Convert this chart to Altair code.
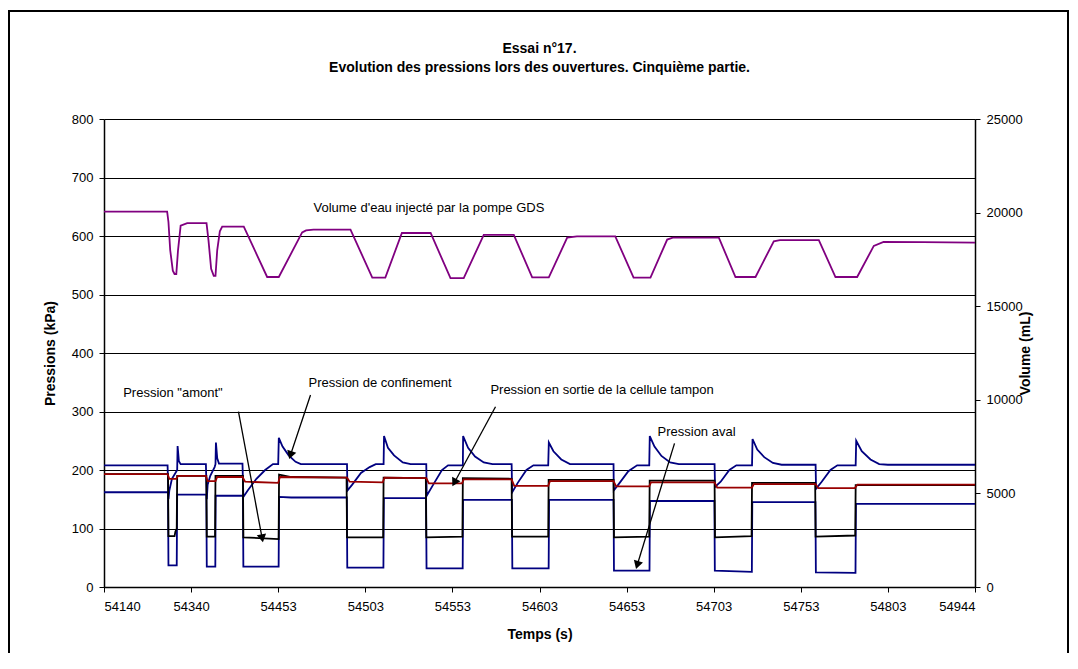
import math
import altair as alt
import pandas as pd

# ---------------- data (x = sample index of the Excel category axis, 0..1000) -------------
x_tick_values = [0, 100, 200, 300, 400, 500, 600, 700, 800, 900, 1000]
x_labels = ['54140', '54340', '54453', '54503', '54553', '54603',
            '54653', '54703', '54753', '54803', '54944']

title_lines = ["Essai n°17.", "Evolution des pressions lors des ouvertures. Cinquième partie."]

# Pression de confinement (kPa)
conf_t = [0, 73, 74, 75, 78, 82, 84, 84.5, 86, 88, 117, 118, 119, 122, 127, 128, 128.5, 130, 132,
          159, 160, 165, 175, 185, 194, 200, 200.7, 205, 212, 220, 226, 279, 279.5, 285, 295, 305,
          312, 321, 321.5, 326, 333, 343, 352, 370, 370.5, 378, 388, 395, 412, 412.3, 418, 426,
          436, 446, 468, 468.6, 475, 485, 493, 510, 510.7, 516, 525, 535, 585, 585.3, 592, 602,
          612, 626, 626.6, 632, 640, 650, 660, 701, 701.5, 708, 718, 726, 744, 744.6, 750, 758,
          768, 778, 817, 817.5, 824, 834, 842, 863, 863.6, 870, 880, 890, 900, 1000]
conf_p = [208, 208, 150, 165, 185, 195, 200, 241, 215, 210, 210, 150, 175, 190, 205, 210, 247, 220, 211,
          211, 154, 165, 185, 200, 210, 210, 255, 240, 225, 214, 210, 210, 165, 175, 195, 205,
          210, 210, 258, 238, 225, 213, 210, 210, 156, 175, 200, 208, 208, 258, 238, 223,
          213, 210, 210, 162, 178, 200, 208, 208, 247, 232, 218, 210, 210, 165, 178, 198,
          208, 208, 258, 240, 224, 213, 210, 210, 171, 180, 200, 208, 208, 253, 235, 222,
          212, 209, 209, 168, 180, 200, 208, 208, 250, 232, 218, 210, 209, 209]

# Pression aval (kPa)
aval_t = [0, 73.5, 74, 83.5, 84, 117.5, 118, 127.8, 128.2, 159.5, 160, 200.5, 201, 215, 278.8, 279.3,
          320.8, 321.3, 369.8, 370.3, 411.8, 412.2, 468.3, 468.8, 510.5, 511, 585, 585.5, 626.3,
          626.8, 700.8, 701.3, 743.8, 744.3, 816.8, 817.3, 862.8, 863.3, 1000]
aval_p = [162, 162, 37, 37, 158, 158, 35, 35, 156, 156, 35, 35, 154, 153, 153, 33,
          33, 152, 152, 32, 32, 149, 149, 32, 32, 149, 149, 28, 28,
          147, 147, 28, 26, 145, 145, 25, 24, 142, 142]

# Pression "amont" (kPa)
amont_t = [0, 73.5, 74, 81, 82, 83.5, 84, 117.5, 118, 127.5, 128, 159.5, 160, 200.5, 201, 215, 278.5,
           279, 320.5, 321, 369.5, 370, 411.5, 412, 468, 468.5, 510, 510.5, 585, 585.5, 626, 626.5,
           701, 701.5, 743.5, 744, 816.5, 817, 862.5, 863, 1000]
amont_p = [193, 193, 87, 87, 95, 100, 190, 190, 86, 86, 190, 190, 85, 82, 192, 188, 187,
           85, 85, 187, 186, 85, 86, 186, 185, 86, 86, 183, 183, 85, 86, 182,
           182, 85, 87, 178, 178, 86, 88, 174, 174]

# Pression en sortie de la cellule tampon (kPa)
tampon_t = [0, 73, 75, 83, 85, 117, 119, 128, 130, 159, 162, 200, 202, 279, 282, 320, 322, 370, 373,
            411, 413, 468, 471, 510, 512, 585, 588, 626, 628, 701, 704, 744, 746, 817, 820, 862,
            865, 1000]
tampon_p = [193, 193, 185, 185, 190, 190, 181, 181, 188, 188, 180, 178, 188, 187, 180, 179, 187, 186, 177,
            177, 184, 184, 173, 173, 181, 181, 172, 172, 179, 179, 170, 170, 176, 176, 169, 169,
            175, 175]

# Volume d'eau injecté par la pompe GDS (mL)
gds_t = [0, 72.5, 74, 76, 79, 81, 83, 85, 88, 95.5, 117.7, 120, 123, 126, 128, 130, 133, 135.7,
         160.5, 187.3, 200.7, 227.5, 232, 240.5, 283, 308, 323, 342, 375, 397.8, 413, 436,
         470.5, 491.6, 510.7, 531.8, 543, 587, 608, 627.4, 646.6, 653, 705.9, 725, 748, 769,
         776, 820.7, 839.8, 864.7, 883.8, 895, 940, 1000]
gds_v = [20050, 20050, 19500, 18000, 16900, 16720, 16720, 18000, 19300, 19440, 19440, 18500, 17000,
         16625, 16625, 18000, 19000, 19250, 19250, 16560, 16560, 18940, 19050, 19090, 19090, 16530,
         16530, 18910, 18910, 16500, 16500, 18810, 18810, 16540, 16540, 18660, 18730, 18730, 16530,
         16530, 18560, 18660, 18660, 16560, 16560, 18470, 18530, 18530, 16560, 16560, 18220, 18440,
         18420, 18400]

# annotations (data coordinates on the pressure axis)
note_text = ["Volume d'eau injecté par la pompe GDS", 'Pression "amont"',
             "Pression de confinement", "Pression en sortie de la cellule tampon", "Pression aval"]
note_t = [240.5, 22, 234.8, 443.6, 635.5]
note_p = [648, 331.6, 349, 336.8, 265]

arrow_t0 = [154.4, 237.1, 449.5, 655.0]
arrow_p0 = [299.7, 328.2, 308.2, 245.6]
arrow_t1 = [181.6, 214.1, 402.2, 612.2]
arrow_p1 = [83.2, 225.6, 178.3, 37.6]

# ---------------- chart ----------------
W, H = 871, 468
FONT = "Liberation Sans"
px_per_t = W / 1000.0
px_per_p = H / 800.0

xs = alt.Scale(domain=[0, 1000], nice=False, zero=False)
ys = alt.Scale(domain=[0, 800], nice=False)
vs = alt.Scale(domain=[0, 25000], nice=False)

label_expr = "[" + ",".join("'%s'" % s for s in x_labels) + "][round(datum.value/100)]"

AX = dict(labelFont=FONT, labelFontSize=13, labelColor="black", titleFont=FONT, titleFontSize=14,
          titleFontWeight="bold", titleColor="black", domainColor="black", tickColor="black",
          domainWidth=1.5, tickSize=5)

x_axis = alt.Axis(values=x_tick_values, labelExpr=label_expr, title="Temps (s)",
                  grid=False, labelPadding=8, titlePadding=14, **AX)
y_axis = alt.Axis(values=list(range(0, 801, 100)), title="Pressions (kPa)", grid=True,
                  gridColor="black", gridWidth=1, labelPadding=6, titlePadding=14, **AX)
v_axis = alt.Axis(values=list(range(0, 25001, 5000)), title="Volume (mL)", orient="right",
                  format="d", grid=False, labelPadding=6, titlePadding=10, titleAngle=270, **AX)


def enc(chart, xf, yf, yscale, yaxis):
    return chart.encode(x=alt.X(xf, scale=xs, axis=x_axis), y=alt.Y(yf, scale=yscale, axis=yaxis))


def line(t, v, color, yscale=ys, yaxis=y_axis, field="p"):
    df = pd.DataFrame({"t": t, field: v})
    c = alt.Chart(df).mark_line(color=color, strokeWidth=1.8, clip=True)
    return enc(c, "t:Q", field + ":Q", yscale, yaxis).encode(order="t:Q")


one = pd.DataFrame({"a": [0]})
frame = alt.Chart(one).mark_rect(filled=False, stroke="black", strokeWidth=2).encode(
    x=alt.value(-95), x2=alt.value(W + 93), y=alt.value(-108), y2=alt.value(H + 73))

title_df = pd.DataFrame({"txt": title_lines, "row": [0, 1]})
title_marks = alt.Chart(title_df).mark_text(font=FONT, fontSize=14, fontWeight="bold",
                                            color="black", align="center", baseline="middle").encode(
    text="txt:N",
    x=alt.value(W / 2),
    y=alt.Y("row:Q", scale=alt.Scale(domain=[0, 1], range=[-70, -51]), axis=None),
)

l_conf = line(conf_t, conf_p, "#000080")
l_aval = line(aval_t, aval_p, "#000080")
l_amont = line(amont_t, amont_p, "#000000")
l_tampon = line(tampon_t, tampon_p, "#990000")

notes_df = pd.DataFrame({"t": note_t, "p": note_p, "txt": note_text})
notes = enc(alt.Chart(notes_df).mark_text(align="left", baseline="middle", font=FONT,
                                          fontSize=13, color="black"),
            "t:Q", "p:Q", ys, y_axis).encode(text="txt:N")

ang = []
for a0, b0, a1, b1 in zip(arrow_t0, arrow_p0, arrow_t1, arrow_p1):
    dx = (a1 - a0) * px_per_t
    dy = -(b1 - b0) * px_per_p
    ang.append(math.degrees(math.atan2(dx, -dy)) % 360)
arr_df = pd.DataFrame({"t0": arrow_t0, "p0": arrow_p0, "t1": arrow_t1, "p1": arrow_p1, "ang": ang})
arrow_lines = enc(alt.Chart(arr_df).mark_rule(color="black", strokeWidth=1.3),
                  "t0:Q", "p0:Q", ys, y_axis).encode(x2="t1:Q", y2="p1:Q")
arrow_heads = enc(alt.Chart(arr_df).mark_point(shape="triangle-up", filled=True, color="black",
                                               size=90, opacity=1),
                  "t1:Q", "p1:Q", ys, y_axis).encode(angle=alt.Angle("ang:Q", scale=None))

left = alt.layer(l_conf, l_aval, l_amont, l_tampon, arrow_lines, arrow_heads, notes)
right = line(gds_t, gds_v, "#800080", yscale=vs, yaxis=v_axis, field="v")

chart = alt.layer(left, right, frame, title_marks).resolve_scale(y="independent").properties(
    width=W, height=H,
    autosize=alt.AutoSizeParams(type="none"),
    padding={"left": 96, "top": 111, "right": 94, "bottom": 66},
).configure_view(stroke=None).configure(background="white")

chart.save("out.html", embed_options={"renderer": "svg", "actions": False})
